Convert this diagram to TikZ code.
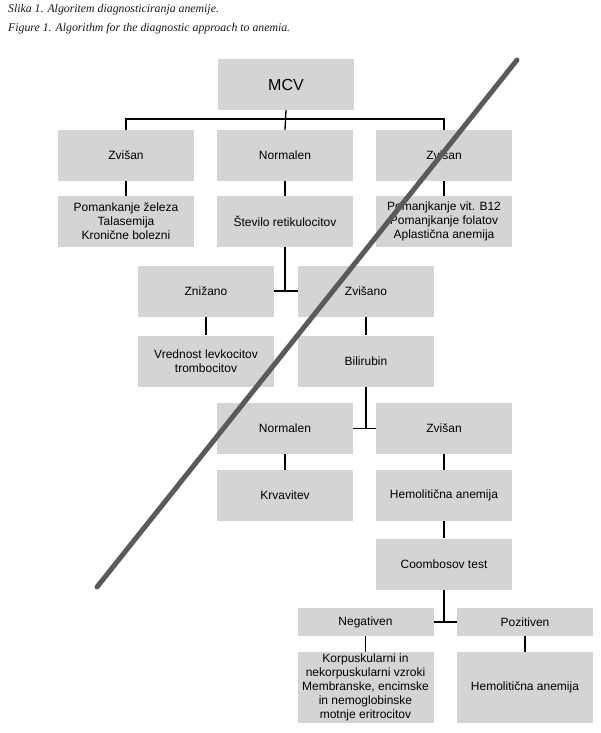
\documentclass[tikz,border=0pt]{standalone}
\usepackage{fontspec}
\setmainfont{Liberation Sans}
\newfontfamily\titlefont{Liberation Serif}
\definecolor{boxgray}{RGB}{212,212,212}
\definecolor{slash}{RGB}{90,90,90}
\begin{document}
\begin{tikzpicture}[x=1pt,y=-1pt,
  box/.style={fill=boxgray, minimum width=136pt, minimum height=51pt, inner sep=0pt,
    align=center, font=\fontsize{12}{14}\selectfont},
  smallbox/.style={box, minimum height=28pt},
  tallbox/.style={box, minimum height=71pt},
  link/.style={draw=black, line width=1.3pt},
  caption/.style={anchor=base west, inner sep=0pt, text=black!90, font=\titlefont\itshape\fontsize{11.8}{13}\selectfont},
  strike/.style={draw=slash, line width=5pt, line cap=round}]
\useasboundingbox (0,0) rectangle (600,733);
\node[caption] (t1) at (8,13) {Slika 1. Algoritem diagnosticiranja anemije.};
\node[caption] (t2) at (8,32) {Figure 1. Algorithm for the diagnostic approach to anemia.};

\node[box, font=\fontsize{16}{18}\selectfont] (mcv) at (286,84.5) {MCV};
\node[box] (z1) at (126,155.5) {Zvišan};
\node[box] (n1) at (285,155.5) {Normalen};
\node[box] (z3) at (444,155.5) {Zvišan};
\node[box] (p1) at (126,221.5) {Pomankanje železa\\Talasemija\\Kronične bolezni};
\node[box] (stev) at (285,221.5) {Število retikulocitov};
\node[box] (p3) at (444,221.5) {Pomanjkanje vit. B12\\Pomanjkanje folatov\\Aplastična anemija};
\node[box] (zn) at (206,291) {Znižano};
\node[box] (zv) at (366,291) {Zvišano};
\node[box] (vr) at (206,361) {Vrednost levkocitov\\trombocitov};
\node[box] (bil) at (366,361) {Bilirubin};
\node[box] (nor) at (285,428.5) {Normalen};
\node[box] (zv2) at (444,428.5) {Zvišan};
\node[box] (krv) at (285,495.5) {Krvavitev};
\node[box] (hem) at (444,495.5) {Hemolitična anemija};
\node[box] (coo) at (444,564) {Coombosov test};
\node[smallbox] (neg) at (365.5,622) {Negativen};
\node[smallbox] (poz) at (525,622) {Pozitiven};
\node[tallbox] (kor) at (365.5,687.5) {Korpuskularni in\\nekorpuskularni vzroki\\Membranske, encimske\\in nemoglobinske\\motnje eritrocitov};
\node[tallbox] (hem2) at (525,687.5) {Hemolitična anemija};

\coordinate (bar) at (286,119);
\draw[link] (z1.north) |- (bar) -| (z3.north);
\draw[link] (mcv.south) -- (n1.north);
\draw[link] (z1.south) -- (p1.north);
\draw[link] (n1.south) -- (stev.north);
\draw[link] (z3.south) -- (p3.north);
\draw[link] (zn.east) -- (zv.west);
\draw[link] (stev.south) -- (stev.south |- zn.east);
\draw[link] (zn.south) -- (vr.north);
\draw[link] (zv.south) -- (bil.north);
\draw[link] (nor.east) -- (zv2.west);
\draw[link] (bil.south) -- (bil.south |- nor.east);
\draw[link] (nor.south) -- (krv.north);
\draw[link] (zv2.south) -- (hem.north);
\draw[link] (hem.south) -- (coo.north);
\draw[link] (neg.east) -- (poz.west);
\draw[link] (coo.south) -- (coo.south |- neg.east);
\draw[link] (neg.south) -- (kor.north);
\draw[link] (poz.south) -- (hem2.north);

\coordinate (s1) at (97,587);
\coordinate (s2) at (517,60);
\draw[strike] (s1) -- (s2);
\end{tikzpicture}
\end{document}
